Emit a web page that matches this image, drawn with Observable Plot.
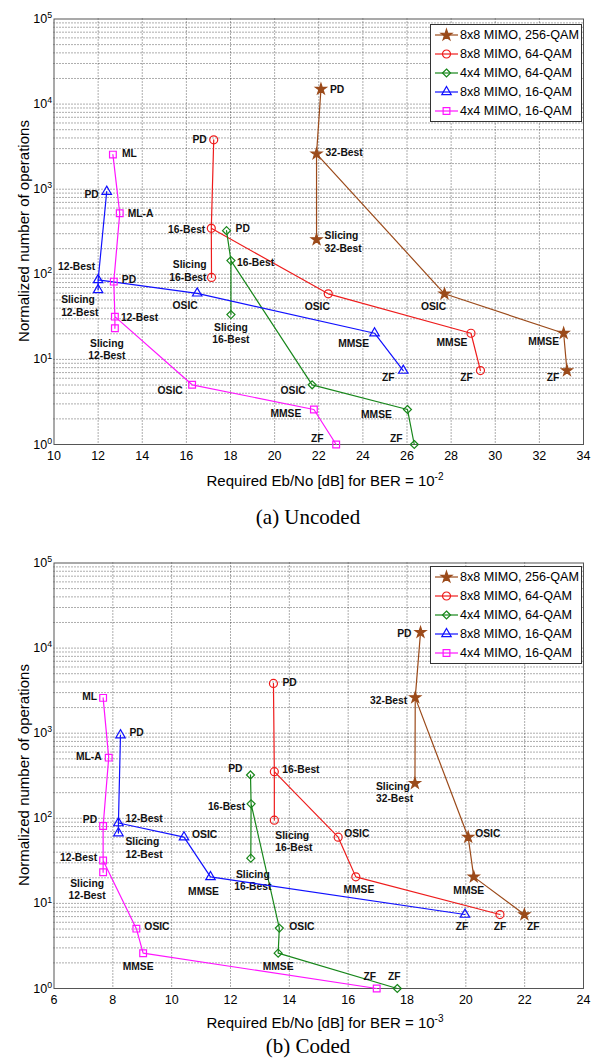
<!DOCTYPE html>
<html><head><meta charset="utf-8">
<script src="https://cdn.jsdelivr.net/npm/d3@7"></script>
<script src="https://cdn.jsdelivr.net/npm/@observablehq/plot@0.6"></script>
<style>
body{margin:0;background:#fff;}
#wrap{position:relative;width:600px;height:1059px;overflow:hidden;font-family:"Liberation Sans",Arial,sans-serif;background:#fff;}
.panel{position:absolute;left:0;}
.xtitle{position:absolute;font-size:15px;white-space:nowrap;transform:translate(-50%,-50%);color:#000;}
.xtitle sup{font-size:10px;}
.caption{position:absolute;font-family:"Liberation Serif","Times New Roman",serif;font-size:21px;transform:translate(-50%,-50%);white-space:nowrap;color:#000;}
.ytitle{position:absolute;font-size:15px;transform:translate(-50%,-50%) rotate(-90deg);white-space:nowrap;color:#000;}
.legend{position:absolute;}
</style></head><body><div id="wrap"></div>
<script>
// ---------------- DATA ----------------
const seriesNames = ["8x8 MIMO, 256-QAM", "8x8 MIMO, 64-QAM", "4x4 MIMO, 64-QAM", "8x8 MIMO, 16-QAM", "4x4 MIMO, 16-QAM"];

const labels256  = ["PD", "32-Best", "Slicing\n32-Best", "OSIC", "MMSE", "ZF"];
const labels64x8 = ["PD", "16-Best", "Slicing\n16-Best", "OSIC", "MMSE", "ZF"];
const labels64x4 = ["PD", "16-Best", "Slicing\n16-Best", "OSIC", "MMSE", "ZF"];
const labels16x8 = ["PD", "12-Best", "Slicing\n12-Best", "OSIC", "MMSE", "ZF"];
const labels16x4 = ["ML", "ML-A", "PD", "12-Best", "Slicing\n12-Best", "OSIC", "MMSE", "ZF"];

// connection order of the points (index into the arrays above)
const path6 = [0, 1, 2, 1, 3, 4, 5];
const path8 = [0, 1, 2, 3, 4, 3, 5, 6, 7];

// (a) Uncoded, BER = 1e-2
const uncX256  = [22.1, 21.9, 21.9, 27.7, 33.1, 33.25];
const uncY256  = [15000, 2600, 256, 59, 20.3, 7.4];
const uncX64x8 = [17.24, 17.13, 17.14, 22.43, 28.9, 29.33];
const uncY64x8 = [3800, 347, 92, 59, 20.3, 7.4];
const uncX64x4 = [17.82, 18.02, 18.02, 21.7, 26.02, 26.33];
const uncY64x4 = [326, 145, 33.6, 5.03, 2.58, 1];
const uncX16x8 = [12.39, 12.0, 12.0, 16.49, 24.53, 25.83];
const uncY16x8 = [938, 86, 65.6, 59.8, 20.3, 7.4];
const uncX16x4 = [12.67, 12.98, 12.71, 12.76, 12.76, 16.26, 21.78, 22.79];
const uncY16x4 = [2550, 521, 82, 31.8, 23.2, 5.03, 2.58, 1];

// (b) Coded, BER = 1e-3
const codX256  = [18.46, 18.28, 18.27, 20.08, 20.27, 21.99];
const codY256  = [15300, 2620, 258, 60, 20.5, 7.4];
const codX64x8 = [13.46, 13.49, 13.49, 15.66, 16.26, 21.16];
const codY64x8 = [3840, 353, 95, 60, 20.5, 7.4];
const codX64x4 = [12.68, 12.7, 12.69, 13.66, 13.62, 17.67];
const codY64x4 = [323, 148, 34, 5.13, 2.6, 1];
const codX16x8 = [8.26, 8.19, 8.19, 10.42, 11.32, 19.97];
const codY16x8 = [950, 88, 67, 60, 20.5, 7.4];
const codX16x4 = [7.67, 7.86, 7.67, 7.67, 7.67, 8.8, 9.03, 16.97];
const codY16x4 = [2600, 516, 81, 32, 23.2, 5.05, 2.6, 1];

// axis ticks
const xTicksUncoded = [10, 12, 14, 16, 18, 20, 22, 24, 26, 28, 30, 32, 34];
const xTicksCoded = [6, 8, 10, 12, 14, 16, 18, 20, 22, 24];
const yTickValues = [1, 10, 100, 1000, 10000, 100000];

// ---------------- STYLE / PLACEMENT ----------------
const seriesColors = ["#9b4a1a", "#ee1c1c", "#17861a", "#1010ff", "#ff14ff"];
const seriesSymbols = ["star", "circle", "diamond2", "triangle", "square"];
const symbolR = [3.4, 4, 3.6, 3.5, 3.8];

// label placement: [dx, dy, anchor]
const placeUnc = [
  [[9,0,"s"],[9,-2,"s"],[8,2,"s"],[-11,12,"m"],[-20,8,"m"],[-14,7,"m"]],
  [[-7,-1,"e"],[-6,1,"e"],[-5,-7,"e"],[-11,12,"m"],[-19,9,"m"],[-14,7,"m"]],
  [[9,-3,"s"],[6,1,"s"],[0,18.5,"m"],[-19,5,"m"],[-31,5,"m"],[-18,-6,"m"]],
  [[-8,2,"e"],[-3,-14,"e"],[-37,15.5,"s"],[-12,12,"m"],[-21,10,"m"],[-15,7,"m"]],
  [[9,-2,"s"],[8,0,"s"],[8,-3,"s"],[6,0,"s"],[-8,20.5,"m"],[-22,5,"m"],[-28,4,"m"],[-19,-6,"m"]]
];
const placeCod = [
  [[-9,1,"e"],[-8,2,"e"],[-39,9,"s"],[7,-4,"s"],[-5,13,"m"],[9,12,"m"]],
  [[9,-1,"s"],[8,-3,"s"],[1,21,"s"],[6,-4,"s"],[3,12,"m"],[0,12,"m"]],
  [[-8,-7,"e"],[-6,2,"e"],[2,22,"m"],[10,-2,"s"],[0,13,"m"],[-3,-12,"m"]],
  [[9,-3,"s"],[7,-5,"s"],[7,14.5,"s"],[8,-3,"s"],[-7,14,"m"],[-3,12,"m"]],
  [[-6,-2,"e"],[-7,-2,"e"],[-6,-7,"e"],[-6,-3,"e"],[-16,17,"m"],[8,-3,"s"],[-5,13,"m"],[-7,-12,"m"]]
];

// ---------------- FONT CHECK ----------------
function hasFont(f) {
  const c = document.createElement("canvas").getContext("2d");
  const s = "Slicing 12-Best MIMO QAM";
  c.font = "20px monospace"; const w1 = c.measureText(s).width;
  c.font = `20px "${f}", monospace`; const w2 = c.measureText(s).width;
  return Math.abs(w1 - w2) > 0.5;
}
const narrow = hasFont("Liberation Sans Narrow");
const bodyFont = narrow ? '"Liberation Sans Narrow", "Arial Narrow", sans-serif' : '"Liberation Sans", Arial, sans-serif';
const labelSize = narrow ? 12 : 10.3;
const legendSize = narrow ? 15 : 12.6;
const tickSize = narrow ? 13.5 : 12.5;

const anchorMap = {s: "start", e: "end", m: "middle"};
const wrap = document.getElementById("wrap");

// minor grid values on a log axis
const yGrid = [];
for (let d = 0; d < 5; d++) for (let k = 1; k <= 9; k++) yGrid.push(k * Math.pow(10, d));

function makePanel(cfg) {
  const marks = [];
  marks.push(Plot.ruleY(yGrid.filter(v => v > 1), {stroke: "#000", strokeOpacity: 0.72, strokeDasharray: "1,2", strokeWidth: 0.9}));
  marks.push(Plot.ruleX(cfg.xTicks.slice(1, -1), {stroke: "#000", strokeOpacity: 0.72, strokeDasharray: "1,2", strokeWidth: 0.9}));
  marks.push(Plot.frame({stroke: "#555", strokeWidth: 1}));
  cfg.series.forEach((s, si) => {
    const pts = s.x.map((x, i) => ({x, y: s.y[i], label: s.labels[i]}));
    const path = s.path.map(i => pts[i]);
    marks.push(Plot.line(path, {x: "x", y: "y", stroke: seriesColors[si], strokeWidth: 1.2}));
    marks.push(Plot.dot(pts, {x: "x", y: "y", symbol: seriesSymbols[si], r: symbolR[si],
      stroke: seriesColors[si], strokeWidth: 1.2, fill: si === 0 ? seriesColors[si] : "none"}));
    pts.forEach((p, i) => {
      const [dx, dy, a] = cfg.place[si][i];
      marks.push(Plot.text([p], {x: "x", y: "y", text: "label", dx, dy, textAnchor: anchorMap[a],
        fontWeight: "bold", fontSize: labelSize, fontFamily: bodyFont, lineHeight: 1.2, fill: "#111"}));
    });
  });
  const svg = Plot.plot({
    width: 600, height: 470,
    marginLeft: 53.5, marginRight: 17, marginTop: 18.5, marginBottom: 26,
    x: {domain: cfg.xDomain, ticks: cfg.xTicks, tickSize: 0, tickPadding: 7, label: null, tickFormat: d => String(d)},
    y: {type: "log", domain: [1, 1e5], ticks: yTickValues, tickSize: 0, tickPadding: 2, label: null,
        tickFormat: d => "10^" + Math.round(Math.log10(d))},
    style: {fontFamily: bodyFont, fontSize: tickSize + "px", color: "#000", background: "transparent"},
    marks
  });
  svg.querySelectorAll('g[aria-label="y-axis tick label"] text').forEach(t => {
    const [b, e] = t.textContent.split("^");
    t.textContent = b;
    const ts = document.createElementNS("http://www.w3.org/2000/svg", "tspan");
    ts.setAttribute("dy", "-0.55em");
    ts.setAttribute("font-size", (tickSize * 0.7) + "px");
    ts.textContent = e;
    t.appendChild(ts);
  });
  const div = document.createElement("div");
  div.className = "panel";
  div.style.top = cfg.top + "px";
  div.appendChild(svg);
  wrap.appendChild(div);

  // legend
  const lg = d3.create("svg").attr("width", 153).attr("height", 99).attr("class", "legend")
    .style("left", "430px").style("top", (cfg.top + cfg.legendTop) + "px").style("position", "absolute");
  lg.append("rect").attr("x", 0.5).attr("y", 0.5).attr("width", 151).attr("height", 97)
    .attr("fill", "#fff").attr("stroke", "#333").attr("stroke-width", 1);
  const symMap = {star: d3.symbolStar, circle: d3.symbolCircle, diamond2: d3.symbolDiamond2, triangle: d3.symbolTriangle, square: d3.symbolSquare};
  seriesNames.forEach((name, i) => {
    const yy = 11 + i * 19;
    lg.append("line").attr("x1", 5).attr("x2", 28).attr("y1", yy).attr("y2", yy)
      .attr("stroke", seriesColors[i]).attr("stroke-width", 1.2);
    lg.append("path").attr("transform", `translate(16.5,${yy})`)
      .attr("d", d3.symbol(symMap[seriesSymbols[i]], Math.PI * symbolR[i] * symbolR[i])())
      .attr("fill", i === 0 ? seriesColors[i] : "none").attr("stroke", seriesColors[i]).attr("stroke-width", 1.2);
    lg.append("text").attr("x", 30).attr("y", yy).attr("dy", "0.35em")
      .attr("font-family", bodyFont).attr("font-size", legendSize).attr("fill", "#000").text(name);
  });
  wrap.appendChild(lg.node());

  const yt = document.createElement("div");
  yt.className = "ytitle"; yt.style.left = "23px"; yt.style.top = (cfg.top + 231) + "px";
  yt.textContent = "Normalized number of operations";
  wrap.appendChild(yt);
  const xt = document.createElement("div");
  xt.className = "xtitle"; xt.style.left = "325px"; xt.style.top = (cfg.top + cfg.xTitleY) + "px";
  xt.innerHTML = cfg.xTitle;
  wrap.appendChild(xt);
  const cp = document.createElement("div");
  cp.className = "caption"; cp.style.left = "308px"; cp.style.top = (cfg.top + cfg.captionY) + "px";
  cp.textContent = cfg.caption;
  wrap.appendChild(cp);
}

makePanel({
  top: 0, xDomain: [10, 34], xTicks: xTicksUncoded, legendTop: 23.5, xTitleY: 480, captionY: 517,
  xTitle: "Required Eb/No [dB] for BER = 10<sup>-2</sup>", caption: "(a) Uncoded",
  place: placeUnc,
  series: [
    {x: uncX256, y: uncY256, labels: labels256, path: path6},
    {x: uncX64x8, y: uncY64x8, labels: labels64x8, path: path6},
    {x: uncX64x4, y: uncY64x4, labels: labels64x4, path: path6},
    {x: uncX16x8, y: uncY16x8, labels: labels16x8, path: path6},
    {x: uncX16x4, y: uncY16x4, labels: labels16x4, path: path8}
  ]
});
makePanel({
  top: 544, xDomain: [6, 24], xTicks: xTicksCoded, legendTop: 22, xTitleY: 478, captionY: 502,
  xTitle: "Required Eb/No [dB] for BER = 10<sup>-3</sup>", caption: "(b) Coded",
  place: placeCod,
  series: [
    {x: codX256, y: codY256, labels: labels256, path: path6},
    {x: codX64x8, y: codY64x8, labels: labels64x8, path: path6},
    {x: codX64x4, y: codY64x4, labels: labels64x4, path: path6},
    {x: codX16x8, y: codY16x8, labels: labels16x8, path: path6},
    {x: codX16x4, y: codY16x4, labels: labels16x4, path: path8}
  ]
});
</script></body></html>
